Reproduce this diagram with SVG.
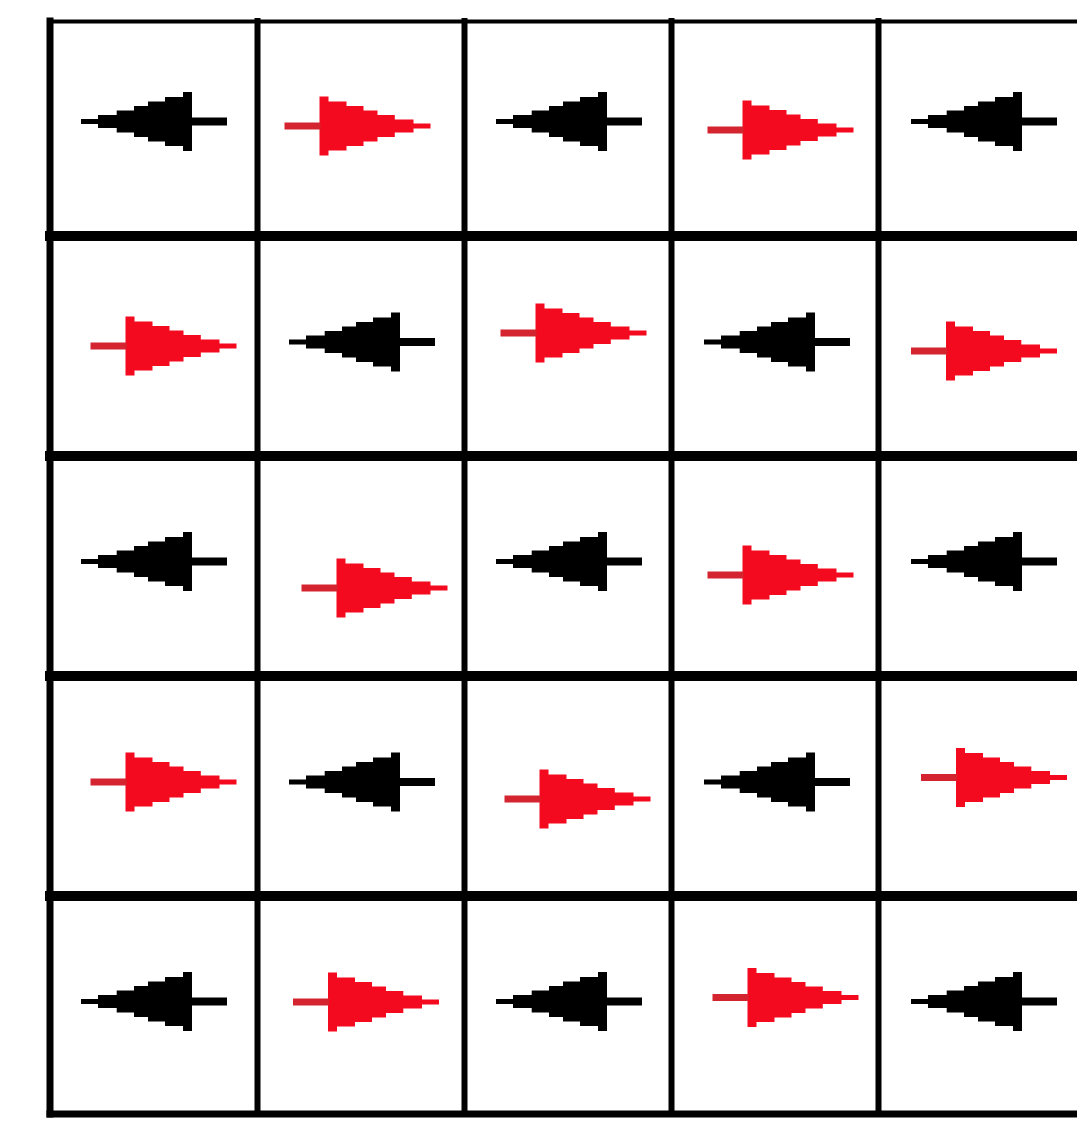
<svg xmlns="http://www.w3.org/2000/svg" xmlns:xlink="http://www.w3.org/1999/xlink" width="1077" height="1125" viewBox="0 0 1077 1125">
<style>
.grid line{stroke:#000;stroke-linecap:square}
.v{stroke-width:6}
.h{stroke-width:10}
.blk{fill:#000}
.redH{fill:#f40a1f}
.redT{fill:#d42430}
</style>
<defs>
<path id="head" d="M0,-2.6 H17 V-6.5 H35.7 V-11 H53 V-15.5 H67 V-20 H84 V-24.5 H102 V-29.5 H111 V29.5 H102 V24.5 H84 V20 H67 V15.5 H53 V11 H35.7 V6.5 H17 V2.6 H0 Z"/>
<rect id="tail" x="110" y="-4" width="36" height="8"/>
<rect id="tailR" x="110" y="-3.5" width="36" height="7"/>
</defs>
<rect width="1077" height="1125" fill="#fff"/>
<g id="grid" class="grid">
<line class="h" x1="50" y1="21.5" x2="1077" y2="21.5" style="stroke-width:4"/>
<line class="h" x1="50" y1="236" x2="1077" y2="236"/>
<line class="h" x1="50" y1="456" x2="1077" y2="456"/>
<line class="h" x1="50" y1="676" x2="1077" y2="676"/>
<line class="h" x1="50" y1="896" x2="1077" y2="896"/>
<line class="h" x1="50" y1="1114" x2="1077" y2="1114" style="stroke-width:7"/>
<line class="v" x1="50" y1="21" x2="50" y2="1114" style="stroke-width:7"/>
<line class="v" x1="257.5" y1="21" x2="257.5" y2="1114"/>
<line class="v" x1="464.5" y1="21" x2="464.5" y2="1114"/>
<line class="v" x1="671.5" y1="21" x2="671.5" y2="1114"/>
<line class="v" x1="878.5" y1="21" x2="878.5" y2="1114"/>
</g>
<g id="connectors">
<!-- row 1 -->
<g id="a11" class="blk" transform="translate(81,121.5)"><use xlink:href="#head"/><use xlink:href="#tail"/></g>
<g id="a12" transform="translate(430.5,126) scale(-1,1)"><use class="redH" xlink:href="#head"/><use class="redT" xlink:href="#tailR"/></g>
<g id="a13" class="blk" transform="translate(496,121.5)"><use xlink:href="#head"/><use xlink:href="#tail"/></g>
<g id="a14" transform="translate(853.5,130) scale(-1,1)"><use class="redH" xlink:href="#head"/><use class="redT" xlink:href="#tailR"/></g>
<g id="a15" class="blk" transform="translate(911,121.5)"><use xlink:href="#head"/><use xlink:href="#tail"/></g>
<!-- row 2 -->
<g id="a21" transform="translate(236.5,346) scale(-1,1)"><use class="redH" xlink:href="#head"/><use class="redT" xlink:href="#tailR"/></g>
<g id="a22" class="blk" transform="translate(289,342)"><use xlink:href="#head"/><use xlink:href="#tail"/></g>
<g id="a23" transform="translate(646.5,333) scale(-1,1)"><use class="redH" xlink:href="#head"/><use class="redT" xlink:href="#tailR"/></g>
<g id="a24" class="blk" transform="translate(704,342)"><use xlink:href="#head"/><use xlink:href="#tail"/></g>
<g id="a25" transform="translate(1057,351) scale(-1,1)"><use class="redH" xlink:href="#head"/><use class="redT" xlink:href="#tailR"/></g>
<!-- row 3 -->
<g id="a31" class="blk" transform="translate(81,561.5)"><use xlink:href="#head"/><use xlink:href="#tail"/></g>
<g id="a32" transform="translate(447.5,588) scale(-1,1)"><use class="redH" xlink:href="#head"/><use class="redT" xlink:href="#tailR"/></g>
<g id="a33" class="blk" transform="translate(496,561.5)"><use xlink:href="#head"/><use xlink:href="#tail"/></g>
<g id="a34" transform="translate(853.5,575) scale(-1,1)"><use class="redH" xlink:href="#head"/><use class="redT" xlink:href="#tailR"/></g>
<g id="a35" class="blk" transform="translate(911,561.5)"><use xlink:href="#head"/><use xlink:href="#tail"/></g>
<!-- row 4 -->
<g id="a41" transform="translate(236.5,782) scale(-1,1)"><use class="redH" xlink:href="#head"/><use class="redT" xlink:href="#tailR"/></g>
<g id="a42" class="blk" transform="translate(289,782)"><use xlink:href="#head"/><use xlink:href="#tail"/></g>
<g id="a43" transform="translate(650.5,799) scale(-1,1)"><use class="redH" xlink:href="#head"/><use class="redT" xlink:href="#tailR"/></g>
<g id="a44" class="blk" transform="translate(704,782)"><use xlink:href="#head"/><use xlink:href="#tail"/></g>
<g id="a45" transform="translate(1067,777.5) scale(-1,1)"><use class="redH" xlink:href="#head"/><use class="redT" xlink:href="#tailR"/></g>
<!-- row 5 -->
<g id="a51" class="blk" transform="translate(81,1001.5)"><use xlink:href="#head"/><use xlink:href="#tail"/></g>
<g id="a52" transform="translate(439,1002) scale(-1,1)"><use class="redH" xlink:href="#head"/><use class="redT" xlink:href="#tailR"/></g>
<g id="a53" class="blk" transform="translate(496,1001.5)"><use xlink:href="#head"/><use xlink:href="#tail"/></g>
<g id="a54" transform="translate(858.5,997.5) scale(-1,1)"><use class="redH" xlink:href="#head"/><use class="redT" xlink:href="#tailR"/></g>
<g id="a55" class="blk" transform="translate(911,1001.5)"><use xlink:href="#head"/><use xlink:href="#tail"/></g>
</g>
</svg>
